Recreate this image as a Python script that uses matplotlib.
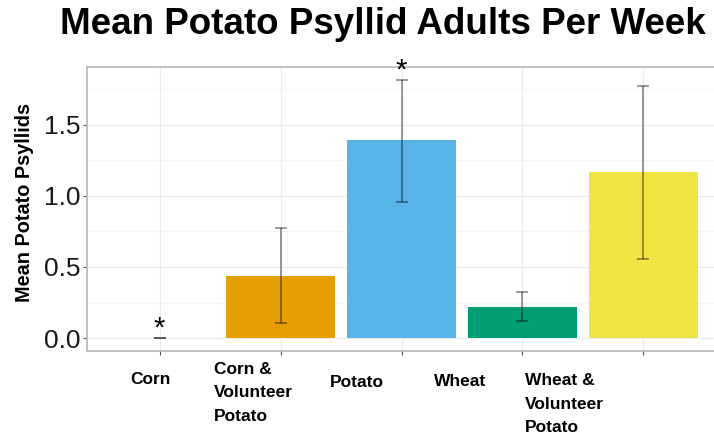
# coding=utf-8
# Mean potato psyllid adults per week, bar chart with error bars
import matplotlib
matplotlib.use('Agg')
import matplotlib.pyplot as plt
import matplotlib.transforms as mtransforms
import numpy as np

plt.rcParams['font.family'] = ['Liberation Sans', 'DejaVu Sans']

# data
crops = ["Corn", "Corn &\nVolunteer\nPotato", "Potato", "Wheat", "Wheat &\nVolunteer\nPotato"]
means = [0.0, 0.44, 1.39, 0.22, 1.165]
err_low = [0.0, 0.108, 0.958, 0.12, 0.554]
err_high = [0.0, 0.775, 1.815, 0.324, 1.77]
signif = [True, False, True, False, False]
colors = ["#000000", "#E69F00", "#56B4E9", "#009E73", "#F0E442"]

x = np.arange(len(crops))
means = np.array(means)
lo = np.array(err_low)
hi = np.array(err_high)

fig = plt.figure(figsize=(7.14, 4.42), dpi=100)
ax = fig.add_axes([87/714, 91/442, 629/714, 284/442])

ax.bar(x, means, width=0.9, color=colors, zorder=2)
ax.errorbar(x, means, yerr=[means - lo, hi - means], fmt='none',
            ecolor='black', alpha=0.42, elinewidth=1.3, capsize=4.3,
            capthick=1.3, zorder=3)

# stars for significant ones
ymax = hi.max()
pad = ymax * 0.05
for i in range(len(crops)):
    if signif[i]:
        ax.text(x[i], hi[i] + 0.065, "*", ha='center', va='center',
                fontsize=21, color='black', clip_on=False, zorder=4)

ax.set_xlim(-0.6, len(crops) - 0.4)
ax.set_ylim(-pad, ymax + pad)
ax.set_yticks([0, 0.5, 1.0, 1.5])
ax.set_yticklabels(["0.0", "0.5", "1.0", "1.5"])
ax.set_yticks([0.25, 0.75, 1.25, 1.75], minor=True)
ax.set_xticks(x)
ax.set_xticklabels([])
ax.tick_params(axis='y', which='major', labelsize=19, labelcolor='#1a1a1a',
               length=3, color='#555555', pad=2)
ax.tick_params(axis='y', which='minor', length=0)
ax.tick_params(axis='x', length=3, color='#555555')

ax.grid(True, which='major', color='#ebebeb', linewidth=0.8, zorder=0)
ax.grid(True, which='minor', axis='y', color='#f5f5f5', linewidth=0.8, zorder=0)
ax.set_axisbelow(True)
for s in ax.spines.values():
    s.set_color('#b8b8b8')
    s.set_linewidth(1.2)

# category labels sit as loose text boxes under the axis
trans = mtransforms.blended_transform_factory(ax.transData, ax.transAxes)
lab_dx = [-0.24, -0.55, -0.59, -0.73, -0.98]
lab_y = [-0.073, -0.038, -0.085, -0.081, -0.077]
for i in range(len(crops)):
    ax.text(x[i] + lab_dx[i], lab_y[i], crops[i], transform=trans,
            ha='left', va='top', fontsize=12.5, fontweight='bold',
            linespacing=1.72, color='black')

fig.text(25/714, 1 - 202/442, "Mean Potato Psyllids", rotation=90,
         ha='center', va='center', fontsize=14.3, fontweight='bold')
fig.text(383/714, 1 - 34/442, "Mean Potato Psyllid Adults Per Week",
         ha='center', va='baseline', fontsize=26.5, fontweight='bold')

fig.savefig("out.png", dpi=100)
